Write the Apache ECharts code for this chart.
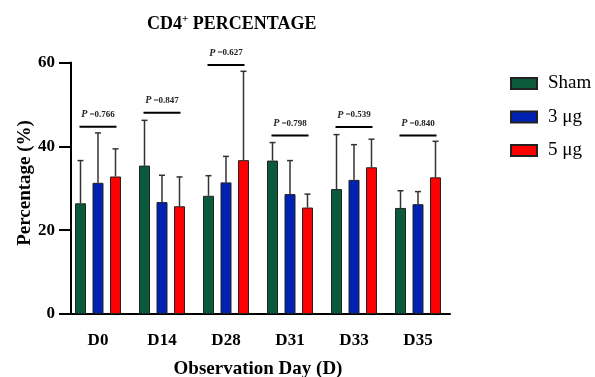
<!DOCTYPE html>
<html>
<head>
<meta charset="utf-8">
<script src="https://cdn.jsdelivr.net/npm/echarts@6/dist/echarts.min.js"></script>
<style>html,body{margin:0;padding:0;background:#fff}#c{width:595px;height:377px}</style>
</head>
<body>
<div id="c"></div>
<script>
const categories = ['D0', 'D14', 'D28', 'D31', 'D33', 'D35'];
const seriesNames = ['Sham', '3 μg', '5 μg'];
const shamMean = [26.4, 35.4, 28.2, 36.6, 29.8, 25.3];
const shamUpper = [36.6, 46.2, 33.0, 40.9, 42.8, 29.4];
const g3Mean = [31.3, 26.7, 31.4, 28.6, 32.0, 26.2];
const g3Upper = [43.2, 33.1, 37.6, 36.6, 40.4, 29.2];
const g5Mean = [32.8, 25.7, 36.7, 25.4, 35.0, 32.6];
const g5Upper = [39.4, 32.7, 57.9, 28.6, 41.7, 41.2];
const pValues = ['0.766', '0.847', '0.627', '0.798', '0.539', '0.840'];
const pLineY = [44.7, 48.0, 59.4, 42.6, 44.6, 42.6];
const yTicks = [0, 20, 40, 60];
const yAxisName = 'Percentage (%)';

const FONT = '"Liberation Serif", "Times New Roman", serif';
const colors = ['#0b5a3c', '#0022b2', '#ff0000'];
const means = [shamMean, g3Mean, g5Mean];
const uppers = [shamUpper, g3Upper, g5Upper];
const offsets = [-17.5, 0, 17.5];

const chart = echarts.init(document.getElementById('c'));

const series = [];
means.forEach((m, i) => {
  series.push({
    name: seriesNames[i],
    type: 'bar',
    data: m,
    barWidth: 11,
    barGap: '59%',
    itemStyle: { color: colors[i], borderColor: '#222', borderWidth: 1 },
    z: 3
  });
});
uppers.forEach((u, i) => {
  series.push({
    type: 'custom',
    name: 'err' + i,
    data: u.map((v, k) => [k, means[i][k], v]),
    z: 2,
    renderItem: function (params, api) {
      const base = api.coord([api.value(0), api.value(1)]);
      const top = api.coord([api.value(0), api.value(2)]);
      const x = base[0] + offsets[i];
      return {
        type: 'group',
        children: [
          { type: 'line', shape: { x1: x, y1: base[1], x2: x, y2: top[1] }, style: { stroke: '#333', lineWidth: 1.5 } },
          { type: 'line', shape: { x1: x - 3, y1: top[1], x2: x + 3, y2: top[1] }, style: { stroke: '#333', lineWidth: 1.5 } }
        ]
      };
    }
  });
});
series.push({
  type: 'custom',
  name: 'pvals',
  data: pLineY.map((v, k) => [k, v, pValues[k]]),
  z: 4,
  renderItem: function (params, api) {
    const p = api.coord([api.value(0), api.value(1)]);
    return {
      type: 'group',
      children: [
        { type: 'line', shape: { x1: p[0] - 18.5, y1: p[1], x2: p[0] + 18.5, y2: p[1] }, style: { stroke: '#000', lineWidth: 2 } },
        { type: 'text', x: p[0], y: p[1] - 12, style: {
            text: '{i|P} =' + pValues[params.dataIndex],
            align: 'center', verticalAlign: 'middle',
            font: 'bold 9px ' + FONT, fill: '#222',
            rich: { i: { fontStyle: 'italic', fontWeight: 'bold', fontSize: 10, fontFamily: FONT, fill: '#222' } }
          } }
      ]
    };
  }
});

chart.setOption({
  animation: false,
  backgroundColor: '#fff',
  title: {
    text: 'CD4{sup|+} PERCENTAGE',
    left: 142, top: 9,
    textStyle: {
      fontFamily: FONT, fontWeight: 'bold', fontSize: 18, color: '#000',
      rich: { sup: { fontFamily: FONT, fontWeight: 'bold', fontSize: 11, color: '#000', verticalAlign: 'top', padding: [0, 0, 10, 0] } }
    }
  },
  graphic: [{
    type: 'text', x: 25, y: 183, rotation: Math.PI / 2,
    style: { text: yAxisName, font: 'bold 19px ' + FONT, fill: '#000', align: 'center', verticalAlign: 'middle' }
  }],
  legend: {
    orient: 'vertical', left: 505, top: 68.5,
    itemWidth: 26, itemHeight: 11, itemGap: 13.5, icon: 'rect',
    data: seriesNames,
    textStyle: { fontFamily: FONT, fontSize: 19, lineHeight: 20, color: '#000', padding: [0, 0, 0, 6] }
  },
  grid: { left: 66, right: 145, top: 62.5, bottom: 377 - 314, containLabel: false, outerBoundsMode: 'none' },
  xAxis: {
    type: 'category', data: categories,
    name: 'Observation Day (D)', nameLocation: 'middle', nameGap: 46,
    nameTextStyle: { fontFamily: FONT, fontWeight: 'bold', fontSize: 19, color: '#000' },
    axisLine: { lineStyle: { color: '#000', width: 2 } },
    axisTick: { alignWithLabel: true, length: 10, lineStyle: { color: '#000', width: 2 } },
    axisLabel: { fontFamily: FONT, fontWeight: 'bold', fontSize: 17, color: '#000', margin: 18 }
  },
  yAxis: {
    type: 'value', min: 0, max: 60, interval: 20, offset: -5,
    axisLine: { show: true, lineStyle: { color: '#000', width: 2 } },
    axisTick: { show: true, length: 12, lineStyle: { color: '#000', width: 2 } },
    splitLine: { show: false },
    axisLabel: { fontFamily: FONT, fontWeight: 'bold', fontSize: 17, color: '#000', margin: 16,
      formatter: v => yTicks.includes(v) ? String(v) : '' }
  },
  series: series
});
</script>
</body>
</html>
